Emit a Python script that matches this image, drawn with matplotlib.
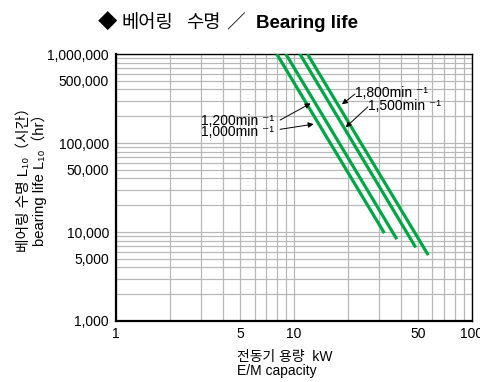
import matplotlib
matplotlib.use('Agg')
import matplotlib.pyplot as plt
from matplotlib.ticker import FixedLocator, LogLocator, NullFormatter, FuncFormatter

plt.rcParams['font.family'] = ['Liberation Sans', 'Noto Sans CJK KR', 'DejaVu Sans']

# speeds and line end points
speeds = ['1,000', '1,200', '1,500', '1,800']
kw_top = [8.0, 9.0, 10.8, 11.9]
life_top = [1000000, 1000000, 1000000, 1000000]
kw_end = [32.2, 37.8, 48.3, 56.8]
life_end = [9700, 8300, 6700, 5500]

xticks = [1, 5, 10, 50, 100]
yticks = [1000, 5000, 10000, 50000, 100000, 500000, 1000000]

fig = plt.figure(figsize=(4.8, 3.82), dpi=100)
ax = fig.add_axes([0.2417, 0.1597, 0.7416, 0.6989])
ax.set_xscale('log')
ax.set_yscale('log')
ax.set_xlim(1, 100)
ax.set_ylim(1000, 1000000)

green = '#00a845'
for i in range(len(speeds)):
    ax.plot([kw_top[i], kw_end[i]], [life_top[i], life_end[i]],
            color=green, lw=2.3, solid_capstyle='butt', zorder=3)

# grid
ax.xaxis.set_major_locator(FixedLocator(xticks))
ax.yaxis.set_major_locator(FixedLocator(yticks))
ax.xaxis.set_minor_locator(LogLocator(base=10, subs=range(1, 10)))
ax.yaxis.set_minor_locator(LogLocator(base=10, subs=range(1, 10)))
ax.xaxis.set_minor_formatter(NullFormatter())
ax.yaxis.set_minor_formatter(NullFormatter())
ax.xaxis.set_major_formatter(FuncFormatter(lambda v, p: '{:d}'.format(int(v))))
ax.yaxis.set_major_formatter(FuncFormatter(lambda v, p: '{:,d}'.format(int(v))))
ax.grid(which='both', color='#b8b8b8', lw=0.9)
ax.tick_params(which='both', length=0, labelsize=10, colors='black')
ax.tick_params(axis='x', pad=4)
ax.tick_params(axis='y', pad=5)
for s in ['left', 'bottom']:
    ax.spines[s].set_linewidth(1.6)
for s in ['top', 'right']:
    ax.spines[s].set_linewidth(1.0)

# annotations
sup = ' \u207b\u00b9'
arrow = dict(arrowstyle='-|>', color='black', lw=0.7, mutation_scale=8,
             shrinkA=0, shrinkB=0)
ax.text(22.0, 365000, speeds[3] + 'min' + sup, fontsize=10, ha='left', va='center')
ax.annotate('', xy=(18.6, 272000), xytext=(22.0, 355000), arrowprops=arrow)
ax.text(26.0, 262000, speeds[2] + 'min' + sup, fontsize=10, ha='left', va='center')
ax.annotate('', xy=(19.5, 150000), xytext=(26.0, 255000), arrowprops=arrow)
ax.text(3.0, 176000, speeds[1] + 'min' + sup, fontsize=10, ha='left', va='center')
ax.annotate('', xy=(12.4, 279000), xytext=(8.35, 181000), arrowprops=arrow)
ax.text(3.0, 132000, speeds[0] + 'min' + sup, fontsize=10, ha='left', va='center')
ax.annotate('', xy=(12.9, 163000), xytext=(8.35, 142500), arrowprops=arrow)

ax.set_ylabel('베어링 수명 L\u2081\u2080（시간）\nbearing life L\u2081\u2080（hr）',
              fontsize=10.6, linespacing=1.0)
ax.yaxis.set_label_coords(-0.194, 0.543)
ax.set_xlabel('전동기 용량  kW\nE/M capacity', fontsize=10,
              multialignment='left', linespacing=1.0)
ax.xaxis.set_label_coords(0.475, -0.107)

# title pieces: regular Korean part, bold English part
ty = 1 - 28.0 / 382
fig.text(98 / 480, ty, '◆', fontsize=14, ha='left', va='baseline')
fig.text(121 / 480, ty, '베어링', fontsize=13.5, ha='left', va='baseline')
fig.text(186 / 480, ty, '수명', fontsize=13.5, ha='left', va='baseline')
fig.text(226 / 480, ty, '／', fontsize=13.5, ha='left', va='baseline')
fig.text(256 / 480, ty, 'Bearing life', fontsize=13.5, fontweight='bold',
         ha='left', va='baseline')

fig.savefig('out.png', dpi=100)
